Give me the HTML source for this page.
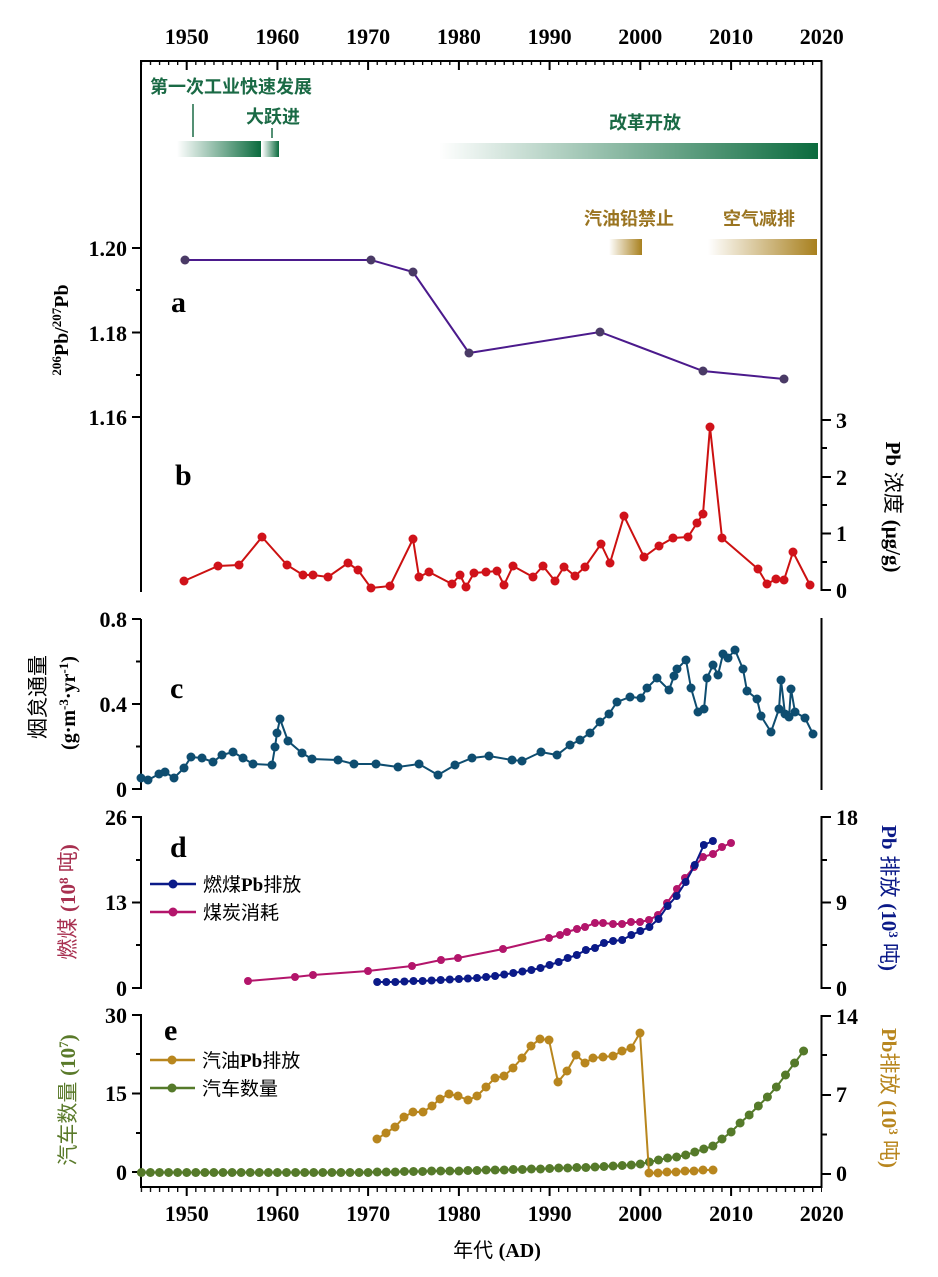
<!DOCTYPE html>
<html><head><meta charset="utf-8"><style>
html,body{margin:0;padding:0;background:#fff}
svg{display:block}
.t{font-family:"Liberation Serif",serif;font-weight:bold;font-size:22px;fill:#000}
.cn{font-family:"Liberation Sans","Noto Sans CJK SC",sans-serif}
</style></head><body>
<svg width="938" height="1277" viewBox="0 0 938 1277" xmlns="http://www.w3.org/2000/svg">
<defs>
<pattern id="mt" x="140.75" y="0" width="9.071" height="2000" patternUnits="userSpaceOnUse"><rect x="0" y="0" width="1.3" height="2000" fill="#000"/></pattern>
<linearGradient id="g1" x1="0" x2="1"><stop offset="0" stop-color="#0b6b3e" stop-opacity="0"/><stop offset="1" stop-color="#0b6b3e"/></linearGradient>
<linearGradient id="g2" x1="0" x2="1"><stop offset="0" stop-color="#a8801e" stop-opacity="0"/><stop offset="1" stop-color="#a8801e"/></linearGradient>
<marker id="mp" viewBox="0 0 10 10" refX="5" refY="5" markerWidth="9" markerHeight="9" markerUnits="userSpaceOnUse"><circle cx="5" cy="5" r="5" fill="#4a3a66"/></marker>
<marker id="mr" viewBox="0 0 10 10" refX="5" refY="5" markerWidth="9" markerHeight="9" markerUnits="userSpaceOnUse"><circle cx="5" cy="5" r="5" fill="#d0121a"/></marker>
<marker id="mb" viewBox="0 0 10 10" refX="5" refY="5" markerWidth="9" markerHeight="9" markerUnits="userSpaceOnUse"><circle cx="5" cy="5" r="5" fill="#0e4d70"/></marker>
<marker id="mn" viewBox="0 0 10 10" refX="5" refY="5" markerWidth="8" markerHeight="8" markerUnits="userSpaceOnUse"><circle cx="5" cy="5" r="5" fill="#0b1a88"/></marker>
<marker id="mm" viewBox="0 0 10 10" refX="5" refY="5" markerWidth="8" markerHeight="8" markerUnits="userSpaceOnUse"><circle cx="5" cy="5" r="5" fill="#b3156b"/></marker>
<marker id="mg" viewBox="0 0 10 10" refX="5" refY="5" markerWidth="9" markerHeight="9" markerUnits="userSpaceOnUse"><circle cx="5" cy="5" r="5" fill="#b8861e"/></marker>
<marker id="mv" viewBox="0 0 10 10" refX="5" refY="5" markerWidth="9" markerHeight="9" markerUnits="userSpaceOnUse"><circle cx="5" cy="5" r="5" fill="#557a2a"/></marker>
</defs>

<!-- top axis -->
<line x1="140" y1="61" x2="822.5" y2="61" stroke="#000" stroke-width="2"/>
<rect x="140" y="61" width="682" height="4" fill="url(#mt)"/>
<path d="M186.7 61v9M277.4 61v9M368.1 61v9M458.9 61v9M549.6 61v9M640.3 61v9M731.1 61v9" stroke="#000" stroke-width="2"/>
<g class="t" text-anchor="middle"><text x="186.7" y="44">1950</text><text x="277.4" y="44">1960</text><text x="368.1" y="44">1970</text><text x="458.9" y="44">1980</text><text x="549.6" y="44">1990</text><text x="640.3" y="44">2000</text><text x="731.1" y="44">2010</text><text x="821.8" y="44">2020</text></g>

<!-- bottom axis -->
<line x1="140" y1="1187" x2="822.5" y2="1187" stroke="#000" stroke-width="2"/>
<rect x="140" y="1187" width="682" height="5" fill="url(#mt)"/>
<path d="M186.7 1187v9M277.4 1187v9M368.1 1187v9M458.9 1187v9M549.6 1187v9M640.3 1187v9M731.1 1187v9" stroke="#000" stroke-width="2"/>
<g class="t" text-anchor="middle"><text x="186.7" y="1221">1950</text><text x="277.4" y="1221">1960</text><text x="368.1" y="1221">1970</text><text x="458.9" y="1221">1980</text><text x="549.6" y="1221">1990</text><text x="640.3" y="1221">2000</text><text x="731.1" y="1221">2010</text><text x="821.8" y="1221">2020</text></g>
<text x="497" y="1257" text-anchor="middle" font-size="20" class="cn" fill="#000">年代 <tspan font-family="Liberation Serif" font-weight="bold">(AD)</tspan></text>

<!-- axes lines -->
<g stroke="#000" stroke-width="2" fill="none">
<line x1="141" y1="60" x2="141" y2="592"/>
<line x1="821.5" y1="60" x2="821.5" y2="591"/>
<line x1="141" y1="619" x2="141" y2="790"/>
<line x1="821.5" y1="618" x2="821.5" y2="790"/>
<line x1="141" y1="816" x2="141" y2="989"/>
<line x1="821.5" y1="816" x2="821.5" y2="989"/>
<line x1="141" y1="1014" x2="141" y2="1188"/>
<line x1="821.5" y1="1015" x2="821.5" y2="1188"/>
<path d="M132 248h9M132 332.5h9M132 417h9M136 290h5M136 375h5"/>
<path d="M822 420h9M822 477h9M822 533.5h9M822 590h9M822 448h5M822 505h5M822 562h5"/>
<path d="M132 619h9M132 704h9M132 789h9M136 661.5h5M136 746.5h5"/>
<path d="M132 817h9M132 902.5h9M132 988h9M136 860h5M136 945h5"/>
<path d="M822 817h9M822 902.5h9M822 988h9M822 860h5M822 945h5"/>
<path d="M132 1015h9M132 1093.5h9M132 1172h9M136 1054h5M136 1133h5"/>
<path d="M822 1016h9M822 1095h9M822 1174h9M822 1055h5M822 1134.5h5"/>
</g>
<g class="t" text-anchor="end">
<text x="127" y="256">1.20</text><text x="127" y="341">1.18</text><text x="127" y="425">1.16</text>
<text x="127" y="627">0.8</text><text x="127" y="712">0.4</text><text x="127" y="797">0</text>
<text x="127" y="825">26</text><text x="127" y="910">13</text><text x="127" y="996">0</text>
<text x="127" y="1023">30</text><text x="127" y="1101">15</text><text x="127" y="1180">0</text>
</g>
<g class="t" text-anchor="start">
<text x="836" y="428">3</text><text x="836" y="485">2</text><text x="836" y="541">1</text><text x="836" y="598">0</text>
<text x="836" y="825">18</text><text x="836" y="910">9</text><text x="836" y="996">0</text>
<text x="836" y="1024">14</text><text x="836" y="1102">7</text><text x="836" y="1181">0</text>
</g>

<g font-family="Liberation Serif" font-weight="bold" font-size="30" fill="#000">
<text x="171" y="312">a</text><text x="175" y="485">b</text><text x="170" y="698">c</text><text x="170" y="857">d</text><text x="164" y="1040">e</text>
</g>

<text transform="translate(68,330) rotate(-90)" text-anchor="middle" font-family="Liberation Serif" font-weight="bold" font-size="20"><tspan font-size="13" dy="-7">206</tspan><tspan dy="7">Pb/</tspan><tspan font-size="13" dy="-7">207</tspan><tspan dy="7">Pb</tspan></text>
<text transform="translate(45,697) rotate(-90)" text-anchor="middle" class="cn" font-size="21" fill="#000">烟炱通量</text>
<text transform="translate(75,703) rotate(-90)" text-anchor="middle" font-family="Liberation Serif" font-weight="bold" font-size="20">(g·m<tspan font-size="13" dy="-7">-3</tspan><tspan dy="7">·yr</tspan><tspan font-size="13" dy="-7">-1</tspan><tspan dy="7">)</tspan></text>
<text transform="translate(75,902) rotate(-90)" text-anchor="middle" font-size="21" fill="#a83050" class="cn">燃煤 <tspan font-family="Liberation Serif" font-weight="bold">(10<tspan font-size="13" dy="-7">8</tspan><tspan dy="7"> </tspan></tspan>吨<tspan font-family="Liberation Serif" font-weight="bold">)</tspan></text>
<text transform="translate(75,1100) rotate(-90)" text-anchor="middle" font-size="21" fill="#5a7a2a" class="cn">汽车数量 <tspan font-family="Liberation Serif" font-weight="bold">(10<tspan font-size="13" dy="-7">7</tspan><tspan dy="7">)</tspan></tspan></text>
<text transform="translate(886,507) rotate(90)" text-anchor="middle" font-size="21" fill="#000" class="cn"><tspan font-family="Liberation Serif" font-weight="bold">Pb</tspan> 浓度 <tspan font-family="Liberation Serif" font-weight="bold">(μg/g)</tspan></text>
<text transform="translate(882,898) rotate(90)" text-anchor="middle" font-size="21" fill="#0b1a88" class="cn"><tspan font-family="Liberation Serif" font-weight="bold">Pb</tspan> 排放 <tspan font-family="Liberation Serif" font-weight="bold">(10<tspan font-size="13" dy="-7">3</tspan><tspan dy="7"> </tspan></tspan>吨<tspan font-family="Liberation Serif" font-weight="bold">)</tspan></text>
<text transform="translate(882,1098) rotate(90)" text-anchor="middle" font-size="21" fill="#b8861e" class="cn"><tspan font-family="Liberation Serif" font-weight="bold">Pb</tspan>排放 <tspan font-family="Liberation Serif" font-weight="bold">(10<tspan font-size="13" dy="-7">3</tspan><tspan dy="7"> </tspan></tspan>吨<tspan font-family="Liberation Serif" font-weight="bold">)</tspan></text>

<g class="cn" font-size="18" font-weight="bold" fill="#1a6a45">
<text x="150" y="93">第一次工业快速发展</text>
<text x="246" y="123">大跃进</text>
<text x="645" y="129" text-anchor="middle">改革开放</text>
</g>
<line x1="193" y1="104" x2="193" y2="137" stroke="#1a6a45" stroke-width="1.5"/>
<line x1="272" y1="128" x2="272" y2="138" stroke="#1a6a45" stroke-width="1.5"/>
<rect x="177" y="141" width="84" height="16" fill="url(#g1)"/>
<rect x="262" y="141" width="17" height="16" fill="url(#g1)"/>
<rect x="439" y="143" width="379" height="16" fill="url(#g1)"/>
<g class="cn" font-size="18" font-weight="bold" fill="#9a7420">
<text x="629" y="225" text-anchor="middle">汽油铅禁止</text>
<text x="759" y="225" text-anchor="middle">空气减排</text>
</g>
<rect x="609" y="239" width="33" height="16" fill="url(#g2)"/>
<rect x="708" y="239" width="109" height="16" fill="url(#g2)"/>

<polyline fill="none" stroke="#4b1a8c" stroke-width="2" marker-start="url(#mp)" marker-mid="url(#mp)" marker-end="url(#mp)" points="185,260 371,260 413,272 469,353 600,332 703,371 784,379"/>

<polyline fill="none" stroke="#cc1111" stroke-width="2" marker-start="url(#mr)" marker-mid="url(#mr)" marker-end="url(#mr)" points="184,581 218,566 239,565 262,537 287,565 303,575 313,575 328,577 348,563 358,570 371,588 390,586 413,539 419,577 429,572 452,584 460,575 466,587 474,573 486,572 497,571 504,585 513,566 533,577 543,566 555,581 564,567 575,576 585,567 601,544 610,563 624,516 644,557 659,546 673,538 688,537 697,523 703,514 710,427 722,538 758,569 767,584 776,579 784,580 793,552 810,585"/>

<polyline fill="none" stroke="#0e4d70" stroke-width="2" marker-start="url(#mb)" marker-mid="url(#mb)" marker-end="url(#mb)" points="141,778 148,780 159,774 165,772 174,778 184,768 191,757 202,758 213,762 222,755 233,752 243,758 253,764 272,765 275,747 277,733 280,719 288,741 302,753 312,759 338,760 354,764 376,764 398,767 419,764 438,775 455,765 472,758 489,756 512,760 522,761 541,752 557,755 570,745 580,740 590,733 600,722 609,714 617,702 630,697 641,698 647,688 657,678 669,690 674,676 677,669 686,660 691,688 698,712 704,709 707,678 713,665 718,675 723,654 728,658 735,650 743,669 747,691 757,699 761,716 771,732 779,709 781,680 785,714 789,717 791,689 795,712 805,718 813,734"/>

<polyline fill="none" stroke="#b3156b" stroke-width="2" marker-start="url(#mm)" marker-mid="url(#mm)" marker-end="url(#mm)" points="248,981 295,977 313,975 368,971 412,966 441,960 458,958 503,949 549,938 560,935 567,932 577,929 585,927 595,923 603,923 613,924 622,924 631,922 640,922 649,920 658,915 667,903 677,889 685,878 694,867 703,857 713,854 722,847 731,843"/>
<polyline fill="none" stroke="#0b1a88" stroke-width="2" marker-start="url(#mn)" marker-mid="url(#mn)" marker-end="url(#mn)" points="377.2,982 386.3,982 395.3,982 404.4,981.5 413.5,981 422.6,981 431.6,980.5 440.7,980 449.8,979.5 458.9,979 467.9,978.5 477,978 486.1,977 495.1,976 504.2,974.5 513.3,973 522.4,971.5 531.4,970 540.5,968 549.6,965 558.7,962 567.7,958 576.8,955 585.9,950 595,948 604,943 613.1,941 622.2,940 631.3,935 640.3,931 649.4,927 658.5,919 667.6,906 676.6,896 685.7,882 694.8,865 703.8,845 712.9,841"/>
<line x1="150" y1="884" x2="196" y2="884" stroke="#0b1a88" stroke-width="2.5"/><circle cx="173" cy="884" r="4.5" fill="#0b1a88"/>
<line x1="150" y1="912" x2="196" y2="912" stroke="#b3156b" stroke-width="2.5"/><circle cx="173" cy="912" r="4.5" fill="#b3156b"/>
<text x="203" y="891" font-size="19" class="cn" fill="#000">燃煤<tspan font-family="Liberation Serif" font-weight="bold">Pb</tspan>排放</text>
<text x="203" y="919" font-size="19" class="cn" fill="#000">煤炭消耗</text>

<polyline fill="none" stroke="#557a2a" stroke-width="2" marker-start="url(#mv)" marker-mid="url(#mv)" marker-end="url(#mv)" points="141.4,1172.5 150.4,1172.5 159.5,1172.5 168.6,1172.5 177.6,1172.5 186.7,1172.5 195.8,1172.5 204.9,1172.5 213.9,1172.5 223,1172.5 232.1,1172.5 241.1,1172.5 250.2,1172.5 259.3,1172.5 268.4,1172.5 277.4,1172.5 286.5,1172.5 295.6,1172.5 304.7,1172.5 313.7,1172.5 322.8,1172.5 331.9,1172.5 340.9,1172.5 350,1172.5 359.1,1172.5 368.1,1172.5 377.2,1172 386.3,1172 395.3,1172 404.4,1171.5 413.5,1171.5 422.6,1171.5 431.6,1171 440.7,1171 449.8,1171 458.9,1171 467.9,1170.5 477,1170.5 486.1,1170 495.1,1170 504.2,1170 513.3,1169.5 522.4,1169.5 531.4,1169 540.5,1169 549.6,1168.5 558.7,1168 567.7,1168 576.8,1167.5 585.9,1167.5 595,1167 604,1166.5 613.1,1166 622.2,1165.5 631.3,1165 640.3,1164 649.4,1162 658.5,1160 667.6,1158 676.6,1157 685.7,1155 694.8,1152 703.8,1149 712.9,1146 722,1139 731.1,1132 740.1,1123 749.2,1115 758.3,1106 767.4,1097 776.4,1087 785.5,1075 794.6,1063 803.6,1051"/>
<polyline fill="none" stroke="#b8861e" stroke-width="2" marker-start="url(#mg)" marker-mid="url(#mg)" marker-end="url(#mg)" points="377,1139 386,1133 395,1127 404,1117 413,1112 423,1112 432,1106 440,1099 449,1094 458,1096 468,1100 477,1096 486,1087 495,1078 504,1076 513,1068 522,1058 531,1046 540,1039 549,1040 558,1082 567,1071 576,1055 585,1063 593,1058 603,1057 613,1056 622,1051 631,1048 640,1033 649,1173 658,1173 667,1172 676,1172 685,1171 694,1171 703,1170 713,1170"/>
<line x1="150" y1="1060" x2="195" y2="1060" stroke="#b8861e" stroke-width="2.5"/><circle cx="172" cy="1060" r="4.5" fill="#b8861e"/>
<line x1="150" y1="1088" x2="195" y2="1088" stroke="#557a2a" stroke-width="2.5"/><circle cx="172" cy="1088" r="4.5" fill="#557a2a"/>
<text x="202" y="1067" font-size="19" class="cn" fill="#000">汽油<tspan font-family="Liberation Serif" font-weight="bold">Pb</tspan>排放</text>
<text x="202" y="1095" font-size="19" class="cn" fill="#000">汽车数量</text>
</svg>
</body></html>
